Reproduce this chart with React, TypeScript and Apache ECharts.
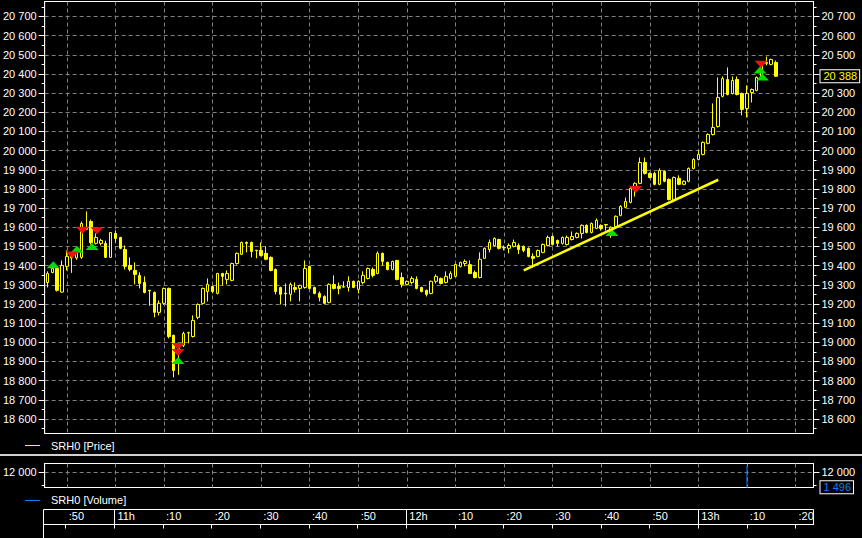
import React, { useEffect, useRef } from 'react';
import * as echarts from 'echarts';

// ---- data ----
const START_MINUTE = 646; // first candle at 10:46, one candle per minute

const opens = [
  19312, 19364, 19385, 19262, 19396, 19460, 19440, 19443, 19600, 19630,
  19516, 19516, 19516, 19443, 19568, 19547, 19484, 19401, 19375, 19349,
  19312, 19271, 19260, 19156, 19203, 19281, 19036, 18950, 18984, 19048,
  19030, 19130, 19203, 19265, 19291, 19255, 19359, 19328, 19323, 19411,
  19459, 19521, 19521, 19480, 19479, 19464, 19443, 19380, 19286, 19257,
  19250, 19286, 19281, 19286, 19396, 19286, 19255, 19239, 19208, 19302,
  19291, 19290, 19286, 19318, 19276, 19312, 19333, 19380, 19359, 19464,
  19417, 19380, 19427, 19338, 19302, 19312, 19328, 19286, 19271, 19255,
  19318, 19333, 19312, 19333, 19344, 19396, 19411, 19405, 19364, 19338,
  19438, 19484, 19505, 19536, 19495, 19490, 19500, 19505, 19500, 19490,
  19448, 19448, 19469, 19505, 19552, 19531, 19516, 19510, 19536, 19547,
  19568, 19610, 19573, 19594, 19610, 19614, 19557, 19600, 19662, 19704,
  19730, 19813, 19829, 19938, 19881, 19881, 19824, 19892, 19850, 19740,
  19855, 19824, 19840, 19907, 19954, 19980, 20038, 20084, 20126, 20283,
  20371, 20298, 20371, 20298, 20220, 20303, 20314, 20387, 20455, 20450,
  20460,
];
const closes = [
  19359, 19385, 19271, 19401, 19448, 19440, 19465, 19620, 19590, 19520,
  19547, 19531, 19443, 19573, 19542, 19490, 19396, 19380, 19354, 19307,
  19260, 19268, 19156, 19203, 19281, 19030, 18853, 18985, 19046, 19050,
  19114, 19197, 19281, 19302, 19265, 19359, 19344, 19359, 19411, 19464,
  19521, 19516, 19474, 19478, 19453, 19433, 19375, 19265, 19250, 19253,
  19302, 19276, 19297, 19385, 19281, 19255, 19234, 19203, 19302, 19281,
  19281, 19288, 19318, 19286, 19318, 19349, 19385, 19349, 19464, 19422,
  19380, 19422, 19328, 19302, 19318, 19333, 19281, 19265, 19250, 19318,
  19344, 19307, 19344, 19359, 19406, 19417, 19422, 19359, 19338, 19433,
  19490, 19521, 19542, 19490, 19493, 19505, 19521, 19484, 19479, 19448,
  19438, 19479, 19510, 19547, 19510, 19516, 19547, 19547, 19552, 19568,
  19610, 19573, 19620, 19636, 19594, 19612, 19600, 19657, 19709, 19735,
  19803, 19829, 19938, 19881, 19860, 19824, 19897, 19840, 19745, 19860,
  19824, 19840, 19907, 19954, 19980, 20043, 20084, 20121, 20277, 20376,
  20293, 20366, 20293, 20215, 20298, 20319, 20382, 20445, 20460, 20475,
  20388,
];
const lows = [
  19286, 19360, 19265, 19258, 19375, 19362, 19430, 19435, 19585, 19510,
  19510, 19505, 19440, 19440, 19521, 19485, 19380, 19370, 19302, 19281,
  19255, 19190, 19130, 19140, 19195, 19020, 18817, 18830, 18975, 18994,
  19025, 19120, 19197, 19213, 19255, 19250, 19297, 19302, 19318, 19405,
  19455, 19469, 19443, 19438, 19448, 19428, 19370, 19250, 19197, 19187,
  19213, 19260, 19213, 19280, 19276, 19250, 19213, 19198, 19203, 19276,
  19250, 19285, 19265, 19282, 19255, 19302, 19328, 19338, 19355, 19401,
  19375, 19375, 19323, 19286, 19297, 19302, 19276, 19260, 19239, 19250,
  19307, 19302, 19307, 19328, 19340, 19390, 19396, 19355, 19333, 19333,
  19435, 19469, 19500, 19484, 19479, 19464, 19495, 19460, 19470, 19443,
  19390, 19443, 19464, 19500, 19505, 19500, 19510, 19505, 19531, 19542,
  19542, 19568, 19568, 19590, 19583, 19583, 19545, 19595, 19657, 19700,
  19725, 19760, 19825, 19875, 19855, 19819, 19819, 19835, 19740, 19735,
  19819, 19819, 19835, 19902, 19949, 19975, 20033, 20079, 20120, 20278,
  20288, 20293, 20288, 20184, 20173, 20251, 20310, 20380, 20445, 20445,
  20385,
];
const highs = [
  19370, 19395, 19390, 19427, 19479, 19470, 19470, 19630, 19683, 19640,
  19568, 19540, 19530, 19575, 19584, 19550, 19505, 19443, 19417, 19365,
  19344, 19273, 19265, 19218, 19285, 19285, 19040, 18990, 19055, 19055,
  19140, 19203, 19285, 19333, 19295, 19362, 19362, 19375, 19415, 19468,
  19525, 19526, 19525, 19482, 19521, 19500, 19448, 19385, 19290, 19307,
  19312, 19312, 19300, 19427, 19400, 19290, 19265, 19245, 19307, 19349,
  19312, 19318, 19344, 19322, 19323, 19370, 19390, 19390, 19474, 19468,
  19420, 19425, 19430, 19364, 19322, 19344, 19344, 19290, 19275, 19322,
  19354, 19338, 19370, 19370, 19410, 19420, 19432, 19427, 19375, 19469,
  19495, 19536, 19547, 19540, 19505, 19516, 19536, 19516, 19505, 19495,
  19464, 19484, 19516, 19557, 19557, 19536, 19552, 19557, 19578, 19573,
  19615, 19615, 19625, 19646, 19615, 19615, 19605, 19662, 19715, 19755,
  19808, 19835, 19964, 19964, 19886, 19890, 19907, 19897, 19855, 19865,
  19871, 19845, 19912, 19960, 20001, 20048, 20090, 20246, 20382, 20387,
  20434, 20387, 20387, 20303, 20340, 20324, 20387, 20455, 20491, 20480,
  20470,
];

// trade signals: [minute, price]
const buySignals = [
  [647.2, 19405], [652.1, 19485], [655.2, 19500], [672.9, 18905],
  [762.2, 19573], [792.7, 20421], [793.2, 20384],
];
const sellSignals = [
  [651.1, 19455], [653.2, 19585], [656.2, 19582], [672.9, 18978],
  [672.9, 18947], [767.1, 19797], [792.9, 20450],
];
const trendLine = [[744.05, 19375], [784.1, 19848]];

const volumes = [[790, 14800]];
const lastPrice = 20388;
const lastVolume = 1496;

const priceTicks = [
  18600, 18700, 18800, 18900, 19000, 19100, 19200, 19300, 19400, 19500, 19600,
  19700, 19800, 19900, 20000, 20100, 20200, 20300, 20400, 20500, 20600, 20700,
];
// right-hand labels: the one under the last-price tag is covered
const rightPriceLabels = priceTicks.filter((v) => v !== 20400);
const volumeTicks = [12000];
const timeTicks = [650, 660, 670, 680, 690, 700, 710, 720, 730, 740, 750, 760, 770, 780, 790, 800];
const hourTicks = [660, 720, 780];

// ---- axis extents ----
const X_MIN = 645.43;
const X_MAX = 803.7;
const P_MIN = 18524;
const P_MAX = 20778;
const V_MIN = 5200;
const V_MAX = 15950;

const FONT = '"Liberation Sans", Arial, sans-serif';
const WHITE = '#ffffff';
const GRID = '#808080';
const YELLOW = '#ffff00';
const GREEN = '#00dd00';
const RED = '#ee1111';
const BLUE = '#0a7cff';

const fmt = (v: number) => String(Math.round(v)).replace(/\B(?=(\d{3})+(?!\d))/g, ' ');
const fmtTime = (m: number) => {
  const mm = Math.round(m) % 60;
  return mm === 0 ? `${Math.round(m) / 60}h` : ':' + String(mm).padStart(2, '0');
};

function yAxisDef(
  gridIndex: number, position: string, min: number, max: number,
  ticks: number[], labels: number[], step: number, split: boolean,
) {
  return {
    type: 'value',
    gridIndex,
    position,
    min,
    max,
    minInterval: step,
    maxInterval: step,
    axisLine: { show: true, lineStyle: { color: WHITE, width: 1 } },
    axisTick: { show: true, length: 6, customValues: ticks, lineStyle: { color: WHITE } },
    minorTick: { show: true, splitNumber: 2, length: 3, lineStyle: { color: WHITE } },
    axisLabel: {
      customValues: labels,
      formatter: (v: number) => fmt(v),
      color: WHITE,
      fontSize: 11,
      fontFamily: FONT,
      margin: 8,
    },
    splitLine: { show: split, lineStyle: { color: GRID, type: [4, 3], width: 1 } },
    minorSplitLine: { show: false },
  };
}

function plainX(gridIndex: number) {
  return {
    type: 'value',
    gridIndex,
    min: X_MIN,
    max: X_MAX,
    minInterval: 10,
    maxInterval: 10,
    axisLine: { show: false },
    axisTick: { show: false, customValues: timeTicks },
    axisLabel: { show: false, customValues: timeTicks },
    splitLine: { show: true, lineStyle: { color: GRID, type: [4, 3], width: 1 } },
  };
}

export default function App() {
  const ref = useRef<HTMLDivElement>(null);

  useEffect(() => {
    document.body.style.margin = '0';
    document.body.style.background = '#000';
    if (!ref.current) return;
    const chart = echarts.init(ref.current, undefined, { renderer: 'svg' });

    const candles = opens.map((o, i) => [START_MINUTE + i, o, closes[i], lows[i], highs[i]]);

    const option: any = {
      animation: false,
      backgroundColor: '#000000',
      textStyle: { fontFamily: FONT },
      grid: [
        { left: 43.5, top: 1.5, width: 770, height: 432, show: true, borderColor: WHITE, borderWidth: 1, backgroundColor: 'transparent' },
        { left: 43.5, top: 463.5, width: 770, height: 24, show: true, borderColor: WHITE, borderWidth: 1, backgroundColor: 'transparent' },
        { left: 43.5, top: 509.5, width: 770, height: 15, show: true, borderColor: WHITE, borderWidth: 1, backgroundColor: 'transparent' },
      ],
      xAxis: [
        plainX(0),
        plainX(1),
        {
          type: 'value',
          gridIndex: 2,
          position: 'top',
          min: X_MIN,
          max: X_MAX,
          minInterval: 10,
          maxInterval: 10,
          axisLine: { show: true, lineStyle: { color: WHITE } },
          axisTick: { show: true, inside: true, length: 4, customValues: timeTicks, lineStyle: { color: WHITE } },
          axisLabel: {
            show: true,
            inside: true,
            customValues: timeTicks,
            formatter: (v: number) => fmtTime(v),
            color: WHITE,
            fontSize: 11,
            fontFamily: FONT,
            align: 'left',
            margin: 1,
            padding: [0, 0, 0, 3],
          },
          splitLine: { show: false },
        },
        {
          type: 'value',
          gridIndex: 2,
          position: 'bottom',
          min: X_MIN,
          max: X_MAX,
          minInterval: 60,
          maxInterval: 60,
          axisLine: { show: false },
          axisTick: { show: true, inside: true, length: 15, customValues: hourTicks, lineStyle: { color: WHITE } },
          axisLabel: { show: false },
          splitLine: { show: false },
        },
      ],
      yAxis: [
        yAxisDef(0, 'left', P_MIN, P_MAX, priceTicks, priceTicks, 100, true),
        yAxisDef(0, 'right', P_MIN, P_MAX, priceTicks, rightPriceLabels, 100, false),
        yAxisDef(1, 'left', V_MIN, V_MAX, volumeTicks, volumeTicks, 12000, true),
        yAxisDef(1, 'right', V_MIN, V_MAX, volumeTicks, volumeTicks, 12000, false),
        { type: 'value', gridIndex: 2, min: 0, max: 1, show: false },
      ],
      series: [
        {
          name: 'SRH0 [Price]',
          type: 'candlestick',
          xAxisIndex: 0,
          yAxisIndex: 0,
          data: candles,
          encode: { x: 0, y: [1, 2, 3, 4] },
          barWidth: 3,
          itemStyle: {
            color: '#000000',
            color0: YELLOW,
            borderColor: YELLOW,
            borderColor0: YELLOW,
            borderWidth: 1,
          },
          markLine: {
            silent: true,
            symbol: ['none', 'none'],
            lineStyle: { color: 'rgba(0,0,0,0)', width: 0 },
            label: {
              show: true,
              position: 'end',
              distance: 7,
              formatter: fmt(lastPrice),
              color: YELLOW,
              fontSize: 11,
              fontFamily: FONT,
              backgroundColor: '#000000',
              borderColor: WHITE,
              borderWidth: 1,
              padding: [1, 2, 0, 3],
            },
            data: [{ yAxis: lastPrice }],
          },
        },
        {
          name: 'buy',
          type: 'scatter',
          xAxisIndex: 0,
          yAxisIndex: 0,
          data: buySignals,
          symbol: 'triangle',
          symbolSize: [13, 7],
          itemStyle: { color: GREEN, opacity: 1 },
        },
        {
          name: 'sell',
          type: 'scatter',
          xAxisIndex: 0,
          yAxisIndex: 0,
          data: sellSignals,
          symbol: 'triangle',
          symbolRotate: 180,
          symbolSize: [13, 7],
          itemStyle: { color: RED, opacity: 1 },
        },
        {
          name: 'trend',
          type: 'line',
          xAxisIndex: 0,
          yAxisIndex: 0,
          data: trendLine,
          symbol: 'none',
          lineStyle: { color: YELLOW, width: 2.5 },
        },
        {
          name: 'SRH0 [Volume]',
          type: 'bar',
          xAxisIndex: 1,
          yAxisIndex: 2,
          data: volumes,
          barWidth: 1,
          itemStyle: { color: BLUE },
          markLine: {
            silent: true,
            symbol: ['none', 'none'],
            lineStyle: { color: 'rgba(0,0,0,0)', width: 0 },
            label: {
              show: true,
              position: 'end',
              distance: 7,
              formatter: fmt(lastVolume),
              color: BLUE,
              fontSize: 11,
              fontFamily: FONT,
              backgroundColor: '#000000',
              borderColor: WHITE,
              borderWidth: 1,
              padding: [1, 2, 0, 3],
            },
            data: [{ yAxis: V_MIN + 60 }],
          },
        },
      ],
      graphic: [
        { type: 'rect', shape: { x: 25, y: 445, width: 15, height: 1 }, style: { fill: YELLOW } },
        { type: 'text', x: 51, y: 446, style: { text: 'SRH0 [Price]', fill: WHITE, font: `11px ${FONT}`, textVerticalAlign: 'middle', verticalAlign: 'middle' } },
        { type: 'rect', shape: { x: 0, y: 454, width: 862, height: 2 }, style: { fill: '#d0d0d0' } },
        { type: 'rect', shape: { x: 25, y: 500, width: 15, height: 1 }, style: { fill: BLUE } },
        { type: 'text', x: 51, y: 500, style: { text: 'SRH0 [Volume]', fill: WHITE, font: `11px ${FONT}`, textVerticalAlign: 'middle', verticalAlign: 'middle' } },
        { type: 'rect', shape: { x: 43, y: 524, width: 1, height: 14 }, style: { fill: WHITE } },
      ],
    };

    chart.setOption(option);
    return () => chart.dispose();
  }, []);

  return (
    <div
      ref={ref}
      style={{ position: 'fixed', left: 0, top: 0, width: 862, height: 538, background: '#000' }}
    />
  );
}
